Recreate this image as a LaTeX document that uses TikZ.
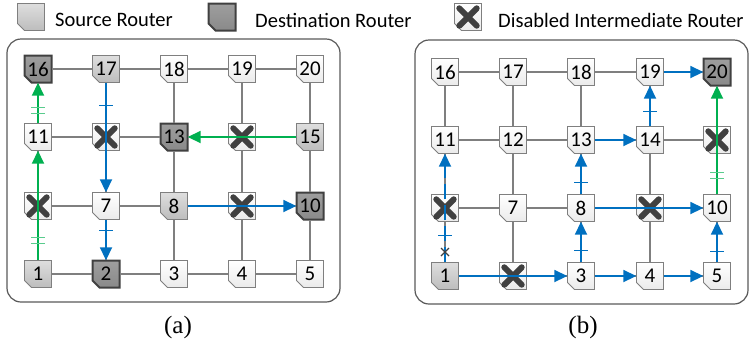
\documentclass[tikz,border=0pt]{standalone}
\usepackage{fontspec}
\setmainfont{Carlito}
\newfontfamily\capfont{Liberation Serif}
\usetikzlibrary{arrows.meta,calc}
\definecolor{gridc}{HTML}{7F7F7F}
\definecolor{blueA}{HTML}{0070C0}
\definecolor{greenA}{HTML}{00B050}
\definecolor{xcol}{HTML}{404040}
\definecolor{framec}{HTML}{595959}
\tikzset{
 rbox/.style={draw=gridc, line width=0.9pt, top color=white, bottom color=black!8},
 rplain/.style={rbox},
 rsrc/.style={rbox, top color=black!13, bottom color=black!26},
 rdst/.style={rbox, draw=xcol, line width=2pt, top color=black!38, bottom color=black!46},
 rtext/.style={rectangle, minimum width=27pt, minimum height=27pt, inner sep=0pt,
   font=\fontsize{21}{21}\selectfont},
 xline/.style={draw=xcol, line width=6pt, line cap=round},
 gridline/.style={draw=gridc, line width=1.2pt},
 panel/.style={draw=framec, line width=1.2pt, rounded corners=14pt},
 barr/.style={draw=blueA, line width=1.8pt, -{Triangle[length=13pt,width=12pt]}},
 garr/.style={draw=greenA, line width=1.8pt, -{Triangle[length=13pt,width=12pt]}},
 btick/.style={draw=blueA, line width=1pt},
 gtick/.style={draw=greenA!65, line width=1pt},
 legtext/.style={anchor=west, inner sep=0pt, font=\fontsize{20.5}{20.5}\selectfont},
 captext/.style={font=\capfont\fontsize{25}{25}\selectfont, inner sep=0pt},
}
% router: name, x, y, fill style, text
\newcommand\rt[5]{%
  \path[#4] (#2,#3) ++(-13.5,-13.5) -- ++(27,0) -- ++(0,27) -- ++(-20,0) -- ++(-7,-7) -- cycle;
  \node[rtext] (#1) at (#2,#3) {#5};}
% disabled router: name, x, y
\newcommand\rdis[3]{%
  \rt{#1}{#2}{#3}{rplain}{}
  \draw[xline] ([shift={(5pt,5pt)}]#1.south west) -- ([shift={(-5pt,-5pt)}]#1.north east)
               ([shift={(5pt,-5pt)}]#1.north west) -- ([shift={(-5pt,5pt)}]#1.south east);}
\begin{document}
\begin{tikzpicture}[x=1pt,y=-1pt]
\useasboundingbox (0,0) rectangle (750,349);

% legend
\rt{legsrc}{31}{17}{rsrc}{}
\node[legtext] (legsrctext) at (55,20) {Source Router};
\rt{legdst}{222}{17}{rdst}{}
\node[legtext] (legdsttext) at (255,20) {Destination Router};
\rdis{legdis}{468}{17}
\node[legtext] (legdistext) at (498,20) {Disabled Intermediate Router};

% panels
\draw[panel] (7,39) rectangle (340,302);
\draw[panel] (415,40) rectangle (748,304);

% ---------------- panel (a) ----------------
\rt{a16}{38}{69}{rdst}{16}
\rt{a17}{106}{69}{rsrc}{17}
\rt{a18}{174}{69}{rplain}{18}
\rt{a19}{242}{69}{rplain}{19}
\rt{a20}{310}{69}{rplain}{20}
\rt{a11}{38}{137}{rplain}{11}
\rdis{a12}{106}{137}
\rt{a13}{174}{137}{rdst}{13}
\rdis{a14}{242}{137}
\rt{a15}{310}{137}{rsrc}{15}
\rdis{a6}{38}{206}
\rt{a7}{106}{206}{rplain}{7}
\rt{a8}{174}{206}{rsrc}{8}
\rdis{a9}{242}{206}
\rt{a10}{310}{206}{rdst}{10}
\rt{a1}{38}{274}{rsrc}{1}
\rt{a2}{106}{274}{rdst}{2}
\rt{a3}{174}{274}{rplain}{3}
\rt{a4}{242}{274}{rplain}{4}
\rt{a5}{310}{274}{rplain}{5}

% ---------------- panel (b) ----------------
\rt{b16}{445}{72}{rplain}{16}
\rt{b17}{513}{72}{rplain}{17}
\rt{b18}{581}{72}{rplain}{18}
\rt{b19}{650}{72}{rplain}{19}
\rt{b20}{717}{72}{rdst}{20}
\rt{b11}{445}{140}{rplain}{11}
\rt{b12}{513}{140}{rplain}{12}
\rt{b13}{581}{140}{rplain}{13}
\rt{b14}{650}{140}{rplain}{14}
\rdis{b15}{717}{140}
\rdis{b6}{445}{208}
\rt{b7}{513}{208}{rplain}{7}
\rt{b8}{581}{208}{rplain}{8}
\rdis{b9}{650}{208}
\rt{b10}{717}{208}{rplain}{10}
\rt{b1}{445}{276}{rsrc}{1}
\rdis{b2}{513}{276}
\rt{b3}{581}{276}{rplain}{3}
\rt{b4}{650}{276}{rplain}{4}
\rt{b5}{717}{276}{rplain}{5}

% grid lines
\foreach \p in {a,b}{
  \foreach \r in {0,5,10,15}{
    \foreach \c in {1,2,3,4}{
      \pgfmathtruncatemacro{\m}{\r+\c}
      \pgfmathtruncatemacro{\n}{\r+\c+1}
      \draw[gridline] (\p\m) -- (\p\n);
    }
  }
  \foreach \r in {0,5,10}{
    \foreach \c in {1,...,5}{
      \pgfmathtruncatemacro{\m}{\r+\c}
      \pgfmathtruncatemacro{\n}{\r+\c+5}
      \draw[gridline] (\p\m) -- (\p\n);
    }
  }
}

% arrows (a)
\draw[garr] (a1) -- (a11);
\draw[gtick] (31,237) -- (45,237) (31,243) -- (45,243);
\draw[garr] (a11) -- (a16);
\draw[gtick] (31,107) -- (45,107) (31,113) -- (45,113);
\draw[garr] (a15) -- (a13);
\draw[barr] (a17) -- (a7);
\draw[btick] (99,105) -- (113,105);
\draw[barr] (a7) -- (a2);
\draw[btick] (99,230) -- (113,230);
\draw[barr] (a8) -- (a10);

% arrows (b)
\draw[barr, dash pattern=on 15pt off 6pt] (b1) -- (b11);
\draw[btick] (438,235) -- (452,235);
\draw[xcol, line width=1.1pt] (441,248) -- (449,256) (441,256) -- (449,248);
\draw[barr] (b1) -- (b3);
\draw[barr] (b3) -- (b4);
\draw[barr] (b4) -- (b5);
\draw[barr] (b3) -- (b8);
\draw[btick] (574,250) -- (588,250);
\draw[barr] (b5) -- (b10);
\draw[btick] (710,251) -- (724,251);
\draw[barr] (b8) -- (b10);
\draw[barr] (b8) -- (b13);
\draw[btick] (574,182) -- (588,182);
\draw[barr] (b13) -- (b14);
\draw[barr] (b14) -- (b19);
\draw[btick] (643,111) -- (657,111);
\draw[barr] (b19) -- (b20);
\draw[garr] (b10) -- (b20);
\draw[gtick] (710,172) -- (724,172) (710,178) -- (724,178);

% captions
\node[captext] (capa) at (178,327) {(a)};
\node[captext] (capb) at (583,327) {(b)};
\end{tikzpicture}
\end{document}
